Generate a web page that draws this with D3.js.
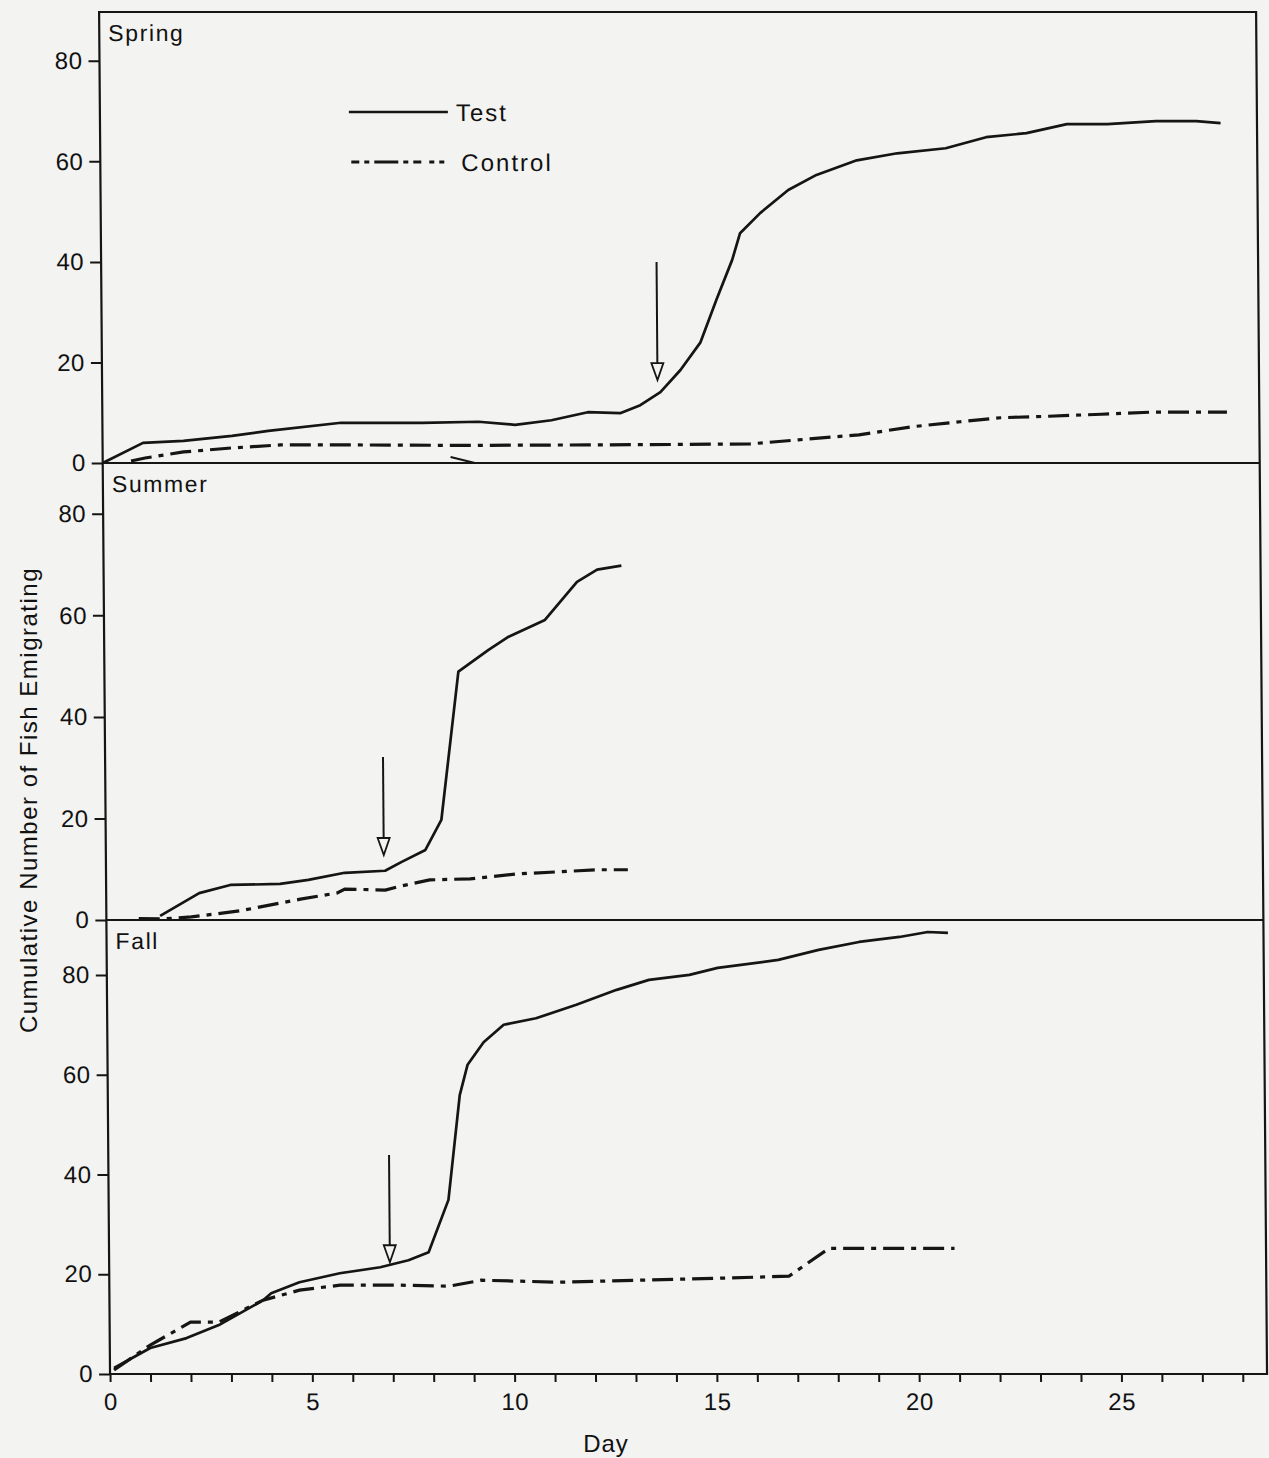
<!DOCTYPE html>
<html>
<head>
<meta charset="utf-8">
<script src="https://cdn.jsdelivr.net/npm/d3@7"></script>
<style>
  html, body { margin: 0; padding: 0; background: #f3f3f1; }
  svg { display: block; }
  text { font-family: "Liberation Sans", Arial, sans-serif; fill: #111; }
</style>
</head>
<body>
<div id="chart"></div>
<script>
// valores: [dia, nº acumulado]
const springTest = [[0,0],[1,4],[2,4.4],[3.2,5.4],[4.1,6.4],[5.9,8],[7.9,8],[9.3,8.2],[10.2,7.6],[11.1,8.5],[12,10.1],[12.8,9.9],[13.3,11.5],[13.8,14.1],[14.3,18.5],[14.8,24],[15.2,32.4],[15.6,40.4],[15.8,45.7],[16.3,49.7],[17,54.3],[17.7,57.3],[18.7,60.2],[19.7,61.6],[20.9,62.6],[21.9,64.8],[22.9,65.6],[23.9,67.4],[24.9,67.4],[26.1,68],[27.1,68],[27.7,67.6]];
const springControl = [[0.7,0.4],[1.05,1],[2,2.2],[3.2,3],[4.4,3.6],[5.9,3.6],[9,3.5],[12,3.6],[14.5,3.7],[16,3.8],[17.2,4.6],[18.7,5.6],[20,7.2],[21.2,8.2],[22.2,9],[23.4,9.3],[24.7,9.7],[25.9,10.1],[27.8,10.1]];
const springStray = [[8.6,1.2],[9.2,0]];

const summerTest = [[1.33,0.8],[2.3,5.3],[3.07,6.9],[4.3,7.1],[5,7.9],[5.9,9.3],[6.9,9.7],[7.3,11.4],[7.9,13.8],[8.3,19.7],[8.75,48.9],[9.5,53.2],[10,55.8],[10.9,59.1],[11.7,66.6],[12.2,69],[12.8,69.8]];
const summerControl = [[0.8,0.3],[1.4,0.2],[2.1,0.6],[3.3,1.8],[4.8,4.1],[5.7,5.3],[5.9,6.1],[6.9,5.9],[7.3,6.7],[8,7.9],[9,8.1],[10.2,9.1],[11.2,9.5],[12.2,9.9],[12.9,9.9]];

const fallTest = [[0.1,1.2],[1,5.2],[1.9,7.2],[2.7,9.8],[3.8,14.8],[4,16.2],[4.7,18.4],[5.7,20.2],[6.7,21.4],[7.4,22.8],[7.9,24.4],[8.4,34.9],[8.7,55.9],[8.9,62],[9.3,66.5],[9.8,70],[10.6,71.3],[11.6,74],[12.6,77],[13.4,79],[14.4,80],[15.1,81.4],[16.6,83],[17.6,85],[18.6,86.6],[19.6,87.6],[20.3,88.6],[20.8,88.4]];
const fallControl = [[0.1,0.8],[1,5.8],[2,10.4],[2.7,10.4],[3.8,14.8],[4.7,16.8],[5.7,17.8],[7.2,17.8],[8.4,17.6],[9.2,18.8],[11.1,18.4],[13.1,18.8],[15.1,19.2],[16.8,19.6],[17.8,25.2],[20.9,25.2]];

// setas: [dia, topo, ponta]
const springArrow = [13.73, 40, 16.5];
const summerArrow = [6.87, 32.1, 12.8];
const fallArrow = [6.94, 43.9, 22.4];

const yTicks = [0, 20, 40, 60, 80];
const xLabels = [0, 5, 10, 15, 20, 25];

const width = 1269, height = 1458;
const left = 99, right = 1256;

const panels = [
  { name: "Spring", top: 12, bottom: 463, yMax: 89.7, test: springTest, control: springControl, arrow: springArrow },
  { name: "Summer", top: 463, bottom: 920, yMax: 90.0, test: summerTest, control: summerControl, arrow: summerArrow },
  { name: "Fall", top: 920, bottom: 1374, yMax: 91.0, test: fallTest, control: fallControl, arrow: fallArrow }
];

const svg = d3.select("#chart").append("svg")
  .attr("width", width)
  .attr("height", height)
  .attr("viewBox", `0 0 ${width} ${height}`);

// a digitalização está ligeiramente inclinada
const g = svg.append("g").attr("transform", "skewX(0.46)");

const x = d3.scaleLinear().domain([0, 28.6]).range([left, right]);

const ink = "#151515";
const dash = "21,7,5,7";
const fontFam = "Liberation Sans, Arial, sans-serif";

panels.forEach(p => {
  const y = d3.scaleLinear().domain([0, p.yMax]).range([p.bottom, p.top]);
  p.y = y;

  const ax = g.append("g")
    .attr("transform", `translate(${left},0)`)
    .call(d3.axisLeft(y).tickValues(yTicks).tickSize(11).tickPadding(6));
  ax.select(".domain").remove();
  ax.selectAll("line").attr("stroke", ink).attr("stroke-width", 2);
  ax.selectAll("text").attr("font-size", 24).attr("fill", "#111")
    .attr("font-family", fontFam).attr("letter-spacing", 0.5);

  g.append("text")
    .attr("x", left + 9)
    .attr("y", p.top + 29)
    .attr("font-size", 23)
    .attr("letter-spacing", 1.6)
    .text(p.name);

  const line = d3.line().x(d => x(d[0])).y(d => y(d[1]));

  g.append("path")
    .datum(p.test)
    .attr("d", line)
    .attr("fill", "none")
    .attr("stroke", ink)
    .attr("stroke-width", 2.7)
    .attr("stroke-linejoin", "round");

  g.append("path")
    .datum(p.control)
    .attr("d", line)
    .attr("fill", "none")
    .attr("stroke", ink)
    .attr("stroke-width", 3.2)
    .attr("stroke-dasharray", dash);

  // seta
  const [ad, at, tip] = p.arrow;
  const axp = x(ad), yTip = y(tip), yTop = y(at);
  g.append("line")
    .attr("x1", axp).attr("x2", axp)
    .attr("y1", yTop).attr("y2", yTip - 14)
    .attr("stroke", ink).attr("stroke-width", 2);
  g.append("path")
    .attr("d", `M${axp - 6},${yTip - 17}L${axp + 6},${yTip - 17}L${axp},${yTip}Z`)
    .attr("fill", "#f3f3f1")
    .attr("stroke", ink)
    .attr("stroke-width", 1.8)
    .attr("stroke-linejoin", "miter");
});

// risco solto no painel de primavera
g.append("path")
  .datum(springStray)
  .attr("d", d3.line().x(d => x(d[0])).y(d => panels[0].y(d[1])))
  .attr("fill", "none").attr("stroke", ink).attr("stroke-width", 2);

// moldura e separadores
g.append("rect")
  .attr("x", left).attr("y", 12)
  .attr("width", right - left).attr("height", 1374 - 12)
  .attr("fill", "none").attr("stroke", ink).attr("stroke-width", 2.2);
[463, 920].forEach(v => {
  g.append("line")
    .attr("x1", left).attr("x2", right)
    .attr("y1", v).attr("y2", v)
    .attr("stroke", ink).attr("stroke-width", 2.2);
});

// eixo dos dias
const xa = g.append("g")
  .attr("transform", "translate(0,1374)")
  .call(d3.axisBottom(x).tickValues(d3.range(0, 29)).tickSize(8).tickPadding(11)
    .tickFormat(d => xLabels.includes(d) ? d : ""));
xa.select(".domain").remove();
xa.selectAll("line").attr("stroke", ink).attr("stroke-width", 2);
xa.selectAll("text").attr("font-size", 24).attr("fill", "#111")
  .attr("font-family", fontFam).attr("letter-spacing", 0.5);

// legenda
g.append("line").attr("x1", 348).attr("x2", 447).attr("y1", 112).attr("y2", 112)
  .attr("stroke", ink).attr("stroke-width", 2.7);
g.append("text").attr("x", 455).attr("y", 121).attr("font-size", 24)
  .attr("letter-spacing", 2).text("Test");
g.append("line").attr("x1", 350).attr("x2", 452).attr("y1", 162).attr("y2", 162)
  .attr("stroke", ink).attr("stroke-width", 3.2).attr("stroke-dasharray", "8,5,5,5,24,5,5,5,8");
g.append("text").attr("x", 460).attr("y", 171).attr("font-size", 24)
  .attr("letter-spacing", 2).text("Control");

// títulos dos eixos
svg.append("text")
  .attr("transform", "translate(37,800) rotate(-90)")
  .attr("text-anchor", "middle")
  .attr("font-size", 24)
  .attr("letter-spacing", 1.5)
  .text("Cumulative Number of Fish Emigrating");

svg.append("text")
  .attr("x", 606).attr("y", 1452)
  .attr("text-anchor", "middle")
  .attr("font-size", 24)
  .attr("letter-spacing", 1)
  .text("Day");
</script>
</body>
</html>
